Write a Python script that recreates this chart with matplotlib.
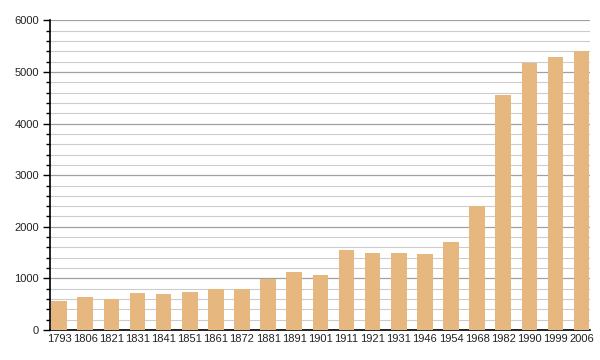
import matplotlib
matplotlib.use("Agg")
import matplotlib.pyplot as plt
from matplotlib.ticker import MultipleLocator

years = ["1793", "1806", "1821", "1831", "1841", "1851", "1861", "1872", "1881", "1891",
         "1901", "1911", "1921", "1931", "1946", "1954", "1968", "1982", "1990", "1999", "2006"]
population = [570, 640, 596, 724, 705, 744, 790, 790, 984, 1126,
              1074, 1553, 1495, 1495, 1476, 1709, 2408, 4563, 5165, 5282, 5404]

plt.rcParams['font.family'] = ['Liberation Sans', 'DejaVu Sans']

fig = plt.figure(figsize=(6, 3.6), dpi=100)
ax = fig.add_axes([0.0833, 0.0833, 0.9, 0.86])

x = range(len(years))
ax.bar(x, population, width=0.6, color="#e6b87f", zorder=3)

ax.set_ylim(0, 6000)
ax.set_xlim(-0.35, len(years) - 0.68)
ax.yaxis.set_major_locator(MultipleLocator(1000))
ax.yaxis.set_minor_locator(MultipleLocator(200))
ax.grid(axis="y", which="major", color="#a0a0a0", linewidth=0.9, zorder=0)
ax.grid(axis="y", which="minor", color="#cccccc", linewidth=0.8, zorder=0)

ax.set_xticks(list(x))
ax.set_xticklabels(years)
ax.tick_params(axis="x", length=0, pad=3, labelsize=8, labelcolor="#222222")
ax.tick_params(axis="y", which="major", length=5, width=1, labelsize=8, labelcolor="#222222", pad=3)
ax.tick_params(axis="y", which="minor", length=3, width=1)

for s in ["top", "right"]:
    ax.spines[s].set_visible(False)
ax.spines["left"].set_linewidth(1.2)
ax.spines["bottom"].set_linewidth(1.2)

fig.savefig("out.png", dpi=100)
